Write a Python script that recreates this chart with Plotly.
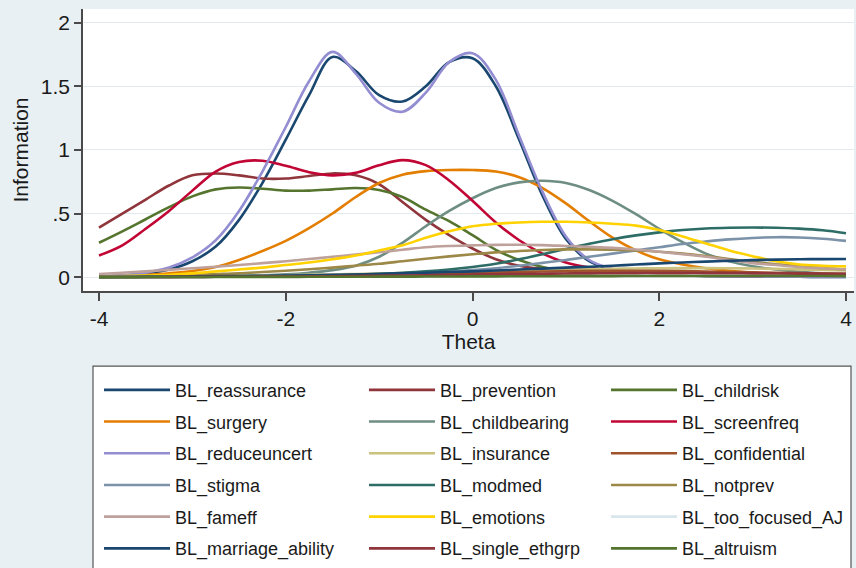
import plotly.graph_objects as go

# Item information functions (graded response model), theta grid step 0.25
theta = [-4.0, -3.75, -3.5, -3.25, -3.0, -2.75, -2.5, -2.25, -2.0, -1.75, -1.5,
         -1.25, -1.0, -0.75, -0.5, -0.25, 0.0, 0.25, 0.5, 0.75, 1.0, 1.25, 1.5,
         1.75, 2.0, 2.25, 2.5, 2.75, 3.0, 3.25, 3.5, 3.75, 4.0]

reassurance = [0.005, 0.012, 0.028, 0.06, 0.125, 0.24, 0.45, 0.74, 1.08, 1.43, 1.73,
               1.62, 1.43, 1.38, 1.50, 1.69, 1.72, 1.50, 1.08, 0.64, 0.30, 0.125, 0.06,
               0.035, 0.022, 0.015, 0.01, 0.007, 0.005, 0.004, 0.003, 0.002, 0.002]
prevention = [0.39, 0.50, 0.61, 0.72, 0.80, 0.815, 0.80, 0.775, 0.775, 0.795, 0.815,
              0.80, 0.73, 0.59, 0.45, 0.33, 0.225, 0.14, 0.09, 0.065, 0.05, 0.04, 0.032,
              0.026, 0.021, 0.017, 0.014, 0.011, 0.009, 0.007, 0.006, 0.005, 0.004]
childrisk = [0.27, 0.36, 0.455, 0.55, 0.635, 0.69, 0.705, 0.695, 0.68, 0.68, 0.69,
             0.70, 0.685, 0.63, 0.53, 0.44, 0.33, 0.215, 0.135, 0.08, 0.05, 0.035, 0.025,
             0.019, 0.015, 0.012, 0.01, 0.008, 0.006, 0.005, 0.004, 0.003, 0.003]
surgery = [0.005, 0.01, 0.018, 0.03, 0.048, 0.08, 0.135, 0.205, 0.285, 0.385, 0.50,
           0.63, 0.74, 0.805, 0.833, 0.842, 0.842, 0.83, 0.785, 0.70, 0.58, 0.44, 0.31,
           0.21, 0.14, 0.10, 0.07, 0.05, 0.035, 0.025, 0.018, 0.013, 0.01]
childbearing = [0.001, 0.002, 0.003, 0.004, 0.006, 0.008, 0.011, 0.015, 0.022, 0.035, 0.055,
                0.09, 0.16, 0.27, 0.40, 0.52, 0.62, 0.70, 0.745, 0.757, 0.74, 0.685, 0.60,
                0.495, 0.38, 0.275, 0.185, 0.125, 0.085, 0.06, 0.042, 0.03, 0.022]
screenfreq = [0.17, 0.25, 0.38, 0.52, 0.68, 0.83, 0.905, 0.915, 0.875, 0.825, 0.80,
              0.82, 0.88, 0.92, 0.88, 0.76, 0.60, 0.43, 0.29, 0.185, 0.115, 0.075, 0.05,
              0.035, 0.025, 0.018, 0.013, 0.01, 0.008, 0.006, 0.005, 0.004, 0.003]
reduceuncert = [0.006, 0.015, 0.035, 0.075, 0.155, 0.29, 0.52, 0.83, 1.18, 1.54, 1.77,
                1.60, 1.37, 1.30, 1.45, 1.69, 1.76, 1.55, 1.11, 0.67, 0.32, 0.135, 0.065,
                0.035, 0.02, 0.013, 0.009, 0.006, 0.005, 0.004, 0.003, 0.002, 0.002]
insurance = [0.002, 0.003, 0.004, 0.005, 0.006, 0.008, 0.01, 0.012, 0.015, 0.018, 0.021,
             0.025, 0.029, 0.033, 0.037, 0.041, 0.045, 0.049, 0.053, 0.057, 0.06, 0.063, 0.066,
             0.068, 0.07, 0.071, 0.071, 0.07, 0.068, 0.065, 0.061, 0.057, 0.053]
confidential = [0.001, 0.001, 0.002, 0.002, 0.003, 0.004, 0.005, 0.006, 0.008, 0.01, 0.012,
                0.015, 0.018, 0.021, 0.025, 0.029, 0.033, 0.037, 0.041, 0.044, 0.047, 0.049, 0.05,
                0.05, 0.049, 0.047, 0.044, 0.041, 0.038, 0.035, 0.032, 0.029, 0.026]
stigma = [0.001, 0.001, 0.002, 0.002, 0.003, 0.004, 0.005, 0.006, 0.008, 0.01, 0.013,
          0.016, 0.02, 0.027, 0.035, 0.044, 0.055, 0.07, 0.09, 0.112, 0.135, 0.16, 0.185,
          0.21, 0.235, 0.26, 0.28, 0.297, 0.308, 0.314, 0.312, 0.302, 0.285]
modmed = [0.0, 0.0, 0.001, 0.001, 0.002, 0.003, 0.004, 0.006, 0.008, 0.011, 0.015,
          0.02, 0.026, 0.034, 0.045, 0.06, 0.08, 0.105, 0.14, 0.18, 0.222, 0.262, 0.298,
          0.328, 0.352, 0.37, 0.382, 0.388, 0.39, 0.388, 0.381, 0.368, 0.345]
notprev = [0.005, 0.007, 0.01, 0.014, 0.018, 0.024, 0.03, 0.04, 0.05, 0.062, 0.075,
           0.09, 0.105, 0.125, 0.145, 0.163, 0.18, 0.195, 0.205, 0.213, 0.218, 0.218, 0.215,
           0.209, 0.20, 0.185, 0.165, 0.142, 0.12, 0.102, 0.085, 0.072, 0.06]
fameff = [0.025, 0.035, 0.045, 0.057, 0.07, 0.082, 0.095, 0.11, 0.125, 0.142, 0.16,
          0.178, 0.195, 0.215, 0.235, 0.245, 0.25, 0.254, 0.255, 0.252, 0.245, 0.238, 0.23,
          0.217, 0.20, 0.18, 0.16, 0.135, 0.11, 0.095, 0.08, 0.07, 0.06]
emotions = [0.005, 0.008, 0.012, 0.018, 0.03, 0.045, 0.06, 0.075, 0.095, 0.115, 0.14,
            0.17, 0.21, 0.25, 0.31, 0.36, 0.40, 0.42, 0.43, 0.435, 0.435, 0.43, 0.42,
            0.405, 0.37, 0.32, 0.265, 0.21, 0.165, 0.125, 0.10, 0.09, 0.085]
too_focused_aj = [0.002, 0.002, 0.003, 0.003, 0.004, 0.004, 0.005, 0.005, 0.006, 0.006, 0.007,
                  0.008, 0.008, 0.009, 0.01, 0.011, 0.012, 0.013, 0.014, 0.015, 0.016, 0.017, 0.018,
                  0.019, 0.02, 0.02, 0.021, 0.021, 0.021, 0.021, 0.02, 0.02, 0.019]
marriage_ability = [0.002, 0.003, 0.004, 0.005, 0.006, 0.008, 0.009, 0.011, 0.013, 0.015, 0.018,
                    0.021, 0.025, 0.03, 0.035, 0.04, 0.045, 0.052, 0.06, 0.067, 0.075, 0.082, 0.09,
                    0.099, 0.108, 0.115, 0.122, 0.128, 0.134, 0.138, 0.141, 0.142, 0.143]
single_ethgrp = [0.001, 0.001, 0.001, 0.002, 0.002, 0.003, 0.003, 0.004, 0.005, 0.006, 0.007,
                 0.009, 0.011, 0.013, 0.015, 0.018, 0.02, 0.023, 0.025, 0.027, 0.029, 0.03, 0.031,
                 0.032, 0.032, 0.032, 0.032, 0.031, 0.03, 0.029, 0.028, 0.027, 0.026]
altruism = [0.0, 0.0, 0.001, 0.001, 0.001, 0.001, 0.002, 0.002, 0.002, 0.003, 0.003,
            0.003, 0.004, 0.004, 0.005, 0.005, 0.006, 0.006, 0.007, 0.007, 0.008, 0.008, 0.008,
            0.009, 0.009, 0.009, 0.009, 0.009, 0.009, 0.009, 0.009, 0.009, 0.008]

items = [
    ("BL_reassurance", reassurance),
    ("BL_prevention", prevention),
    ("BL_childrisk", childrisk),
    ("BL_surgery", surgery),
    ("BL_childbearing", childbearing),
    ("BL_screenfreq", screenfreq),
    ("BL_reduceuncert", reduceuncert),
    ("BL_insurance", insurance),
    ("BL_confidential", confidential),
    ("BL_stigma", stigma),
    ("BL_modmed", modmed),
    ("BL_notprev", notprev),
    ("BL_fameff", fameff),
    ("BL_emotions", emotions),
    ("BL_too_focused_AJ", too_focused_aj),
    ("BL_marriage_ability", marriage_ability),
    ("BL_single_ethgrp", single_ethgrp),
    ("BL_altruism", altruism),
]

# s2color-style palette, cycling after 15 entries
palette = ["#1A476F", "#90353B", "#55752F", "#E37E00", "#6E8E84", "#C10534",
           "#938DD2", "#CAC27E", "#A0522D", "#7B92A8", "#2D6D66", "#9C8847",
           "#BFA19C", "#FFD200", "#D9E6EB"]

W, H = 856, 568
PL, PR, PT, PB = 83, 854, 9, 294  # plot area edges in pixels
FONT = "Arial, Liberation Sans, sans-serif"
BG = "#E8F0F3"


def fx(px):
    return (px - PL) / (PR - PL)


def fy(py):
    return (PB - py) / (PB - PT)


legend_ids = ["legend", "legend2", "legend3"]
fig = go.Figure()
for i, (name, vals) in enumerate(items):
    fig.add_trace(go.Scatter(
        x=theta, y=vals, mode="lines", name=name,
        line=dict(color=palette[i % len(palette)], width=2.6, shape="spline", smoothing=1.0),
        legend=legend_ids[i % 3], legendgroup=name,
        hoverinfo="skip",
    ))

legend_cols_px = [99, 364, 606]
legend_common = dict(
    yanchor="top", xanchor="left", orientation="v",
    font=dict(family=FONT, size=18, color="#1a1a1a"),
    bgcolor="rgba(0,0,0,0)", borderwidth=0,
    itemwidth=66, tracegroupgap=5.3, traceorder="grouped",
)
layout_legends = {}
for lid, cx in zip(legend_ids, legend_cols_px):
    layout_legends[lid] = dict(x=fx(cx), y=fy(375.5), **legend_common)

fig.update_layout(
    width=W, height=H,
    margin=dict(l=PL, r=W - PR, t=PT, b=H - PB, pad=0),
    paper_bgcolor=BG, plot_bgcolor="white",
    font=dict(family=FONT, color="#1a1a1a"),
    showlegend=True,
    **layout_legends,
    xaxis=dict(
        range=[-4 - (99 - PL) / 93.4, 4 + (PR - 846) / 93.4],
        tickvals=[-4, -2, 0, 2, 4], ticktext=["-4", "-2", "0", "2", "4"],
        ticks="outside", ticklen=8, tickwidth=1.5, tickcolor="#4a4a4a",
        showline=True, linecolor="#4a4a4a", linewidth=1.5,
        showgrid=False, zeroline=False,
        tickfont=dict(size=21, family=FONT, color="#1a1a1a"),
        title=dict(text="Theta", font=dict(size=21, family=FONT, color="#1a1a1a"), standoff=2),
        automargin=False,
    ),
    yaxis=dict(
        range=[-(PB - 280) / 128.6, (280 - PT) / 128.6],
        tickvals=[0, 0.5, 1, 1.5, 2], ticktext=["0", ".5", "1", "1.5", "2"],
        ticks="outside", ticklen=7, tickwidth=1.5, tickcolor="#4a4a4a",
        showline=True, linecolor="#4a4a4a", linewidth=1.5,
        showgrid=True, gridcolor="#E1EAEE", gridwidth=1.2, zeroline=False,
        tickfont=dict(size=21, family=FONT, color="#1a1a1a"),
        title=dict(text="Information", font=dict(size=21, family=FONT, color="#1a1a1a"), standoff=6),
        automargin=False,
    ),
    shapes=[dict(
        type="rect", xref="paper", yref="paper",
        x0=fx(93), x1=fx(851), y0=fy(370), y1=fy(580),
        line=dict(color="#555555", width=1.2), fillcolor="white", layer="below",
    )],
)

fig.write_html("out.html")
